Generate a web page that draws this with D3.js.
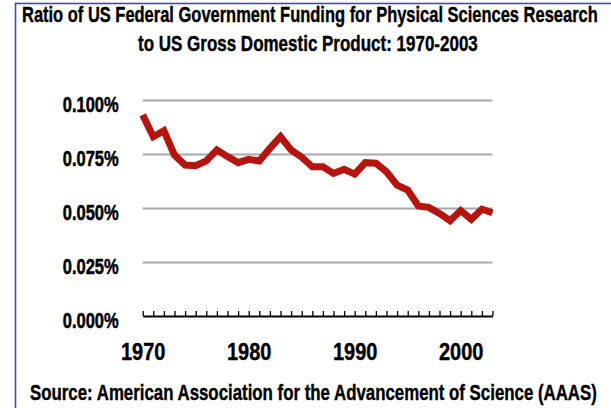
<!DOCTYPE html>
<html><head><meta charset="utf-8">
<script src="https://cdn.jsdelivr.net/npm/d3@7"></script>
<style>
html,body{margin:0;padding:0;background:#fff;}
svg{display:block;}
text{font-family:"Liberation Sans Narrow","Arial Narrow","Liberation Sans",Arial,sans-serif;font-weight:bold;fill:#000;stroke:#000;stroke-width:0.35px;}
</style></head>
<body>
<svg id="chart" width="611" height="408"></svg>
<script>
// ---- data (values in percent of GDP) ----
const years = d3.range(1970, 2004);
const ratioPct = [0.0931,0.0830,0.0858,0.0745,0.0699,0.0696,0.0718,0.0769,0.0738,0.0710,
                  0.0725,0.0718,0.0776,0.0830,0.0769,0.0735,0.0691,0.0691,0.0660,0.0679,
                  0.0657,0.0710,0.0707,0.0668,0.0606,0.0583,0.0509,0.0503,0.0475,0.0441,
                  0.0488,0.0448,0.0494,0.0478];
const yTicks = [0, 0.025, 0.05, 0.075, 0.1];
const xLabelYears = [1970, 1980, 1990, 2000];
const titleLines = ["Ratio of US Federal Government Funding for Physical Sciences Research",
                    "to US Gross Domestic Product: 1970-2003"];
const sourceText = "Source: American Association for the Advancement of Science (AAAS)";

const data = years.map((y, i) => ({year: y, v: ratioPct[i]}));

const svg = d3.select("#chart");

// frame
svg.append("rect").attr("x", 15.5).attr("y", 3.5).attr("width", 700).attr("height", 500)
  .attr("fill", "none").attr("stroke", "#4747b8").attr("stroke-width", 1.6);

const x = d3.scaleLinear().domain([1970, 2003]).range([142.7, 492.5]);
const y = d3.scaleLinear().domain([0, 0.1]).range([316, 100]);

// gridlines
const grid = svg.append("g").attr("transform", "translate(142.7,0)")
  .call(d3.axisLeft(y).tickValues(yTicks.filter(d => d > 0)).tickSize(-(492.5 - 142.7)).tickFormat(""));
grid.select(".domain").remove();
grid.selectAll("line").attr("stroke", "#a8a8a8").attr("stroke-width", 2);

// y axis labels
const fmt = d3.format(".3f");
const yAxis = svg.append("g").attr("transform", "translate(142.7,0)")
  .call(d3.axisLeft(y).tickValues(yTicks).tickSize(0).tickPadding(24).tickFormat(d => fmt(d) + "%"));
yAxis.select(".domain").remove();
const yTexts = yAxis.selectAll("text").attr("font-size", 20).attr("x", null).attr("dy", null)
  .style("stroke-width", "0.5px");
const maxW = d3.max(yTexts.nodes(), n => n.getComputedTextLength());
const ysx = 56 / maxW;
yTexts.attr("transform", `translate(-24,11) scale(${ysx},1.15)`);

// x axis
const xAxis = svg.append("g").attr("transform", "translate(0,316)")
  .call(d3.axisBottom(x).tickValues(years).tickSizeInner(-5).tickSizeOuter(0)
    .tickFormat(d => xLabelYears.includes(d) ? String(d) : ""));
xAxis.select(".domain").attr("stroke", "#000").attr("stroke-width", 2.2);
xAxis.selectAll(".tick line").attr("stroke", "#000").attr("stroke-width", 1.3);
xAxis.selectAll("text").attr("font-size", 20).attr("y", 0).attr("dy", null)
  .attr("transform", "translate(0,44) scale(1,1.2)");

// line
svg.append("path").datum(data)
  .attr("fill", "none").attr("stroke", "#b5150f").attr("stroke-width", 7)
  .attr("stroke-linejoin", "miter").attr("stroke-linecap", "butt")
  .attr("d", d3.line().x(d => x(d.year)).y(d => y(d.v)));

// titles: fit each to its measured width
function fitText(sel, target) {
  const w = sel.node().getComputedTextLength();
  const sx = target / w;
  const xx = +sel.attr("x"), yy = +sel.attr("y");
  sel.attr("x", 0).attr("y", 0)
     .attr("transform", `translate(${xx},${yy}) scale(${sx},1.15)`);
}
fitText(svg.append("text").attr("x", 22).attr("y", 22).attr("font-size", 19).text(titleLines[0]), 576);
fitText(svg.append("text").attr("x", 138).attr("y", 51).attr("font-size", 19).text(titleLines[1]), 340);
fitText(svg.append("text").attr("x", 30).attr("y", 400).attr("font-size", 19).text(sourceText), 567);
</script>
</body></html>
